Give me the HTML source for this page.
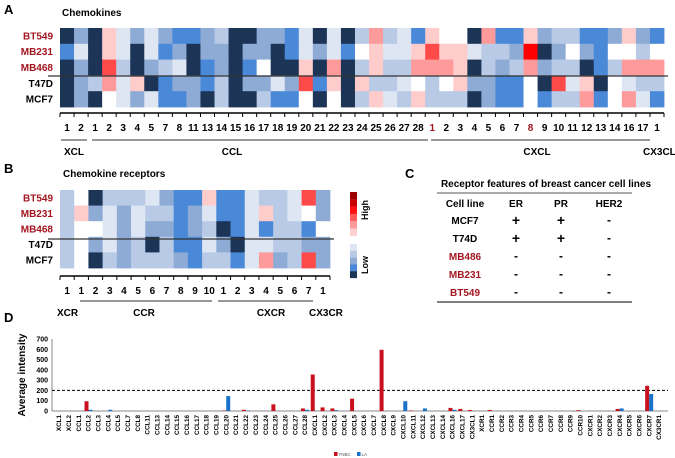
<!DOCTYPE html>
<html><head><meta charset="utf-8">
<style>
html,body{margin:0;padding:0;background:#fff;}
svg{display:block;font-family:"Liberation Sans",Arial,sans-serif;font-weight:bold;}
</style></head>
<body>
<svg id="fig" width="675" height="458" viewBox="0 0 675 458" xmlns="http://www.w3.org/2000/svg">
<text x="4" y="14" font-size="13">A</text>
<text x="62" y="16" font-size="10">Chemokines</text>
<text x="4" y="173" font-size="13">B</text>
<text x="63" y="177" font-size="10">Chemokine receptors</text>
<text x="405" y="178" font-size="13">C</text>
<text x="4" y="322" font-size="13">D</text>
<g id="gA"></g>
<g id="gB"></g>
<g id="gL"></g>
<g id="gC"></g>
<g id="gD"></g>
</svg>
<script>
const rowsA = ["BT549","MB231","MB468","T47D","MCF7"];
const colsA = ["1","2","1","2","3","4","5","7","8","11","13","14","15","16","17","18","19","20","21","22","23","24","25","26","27","28","1","2","3","4","5","6","7","8","9","10","11","12","13","14","16","17","1"];
const heatA = [
 "DMDpPMPMBBMLDDMMBPDPDLsLPBpWWDsBBpMLLBBMpMB",
 "BPDpPDPBMDMMDMMDBPMPBWpPPprppPLLMRDMWMBWWLW",
 "DMDrLDMLPDBMDBWDDpDsDLpLLssspDLMLsMLLDBLsss",
 "DMLsPpDBMMBLDMMPMrBpDpLLPWLWpMMBBWDrPpDWPLL",
 "DMDWPMPBBMDLDDLBBWDWDLpPLpLLLDMBBWBLLsBWsPB"
];
const rowsB = ["BT549","MB231","MB468","T47D","MCF7"];
const colsB = ["1","1","2","3","4","5","6","7","8","9","10","1","2","3","4","5","6","7","1"];
const heatB = [
 "LWDLLLPMBBpBBPLLPrM",
 "LpMPMPLLBMPBBPpLPWM",
 "LWWPMPMMBMLDBPBLLBW",
 "LWMPMLDLBBPMDPPLLMM",
 "LWDLMLLLMBLLBPsMLrM"
];
const catsD = ["XCL1","XCL2","CCL1","CCL2","CCL3","CCL4","CCL5","CCL7","CCL8","CCL11","CCL13","CCL14","CCL15","CCL16","CCL17","CCL18","CCL19","CCL20","CCL21","CCL22","CCL23","CCL24","CCL25","CCL26","CCL27","CCL28","CXCL1","CXCL2","CXCL3","CXCL4","CXCL5","CXCL6","CXCL7","CXCL8","CXCL9","CXCL10","CXCL11","CXCL12","CXCL13","CXCL14","CXCL16","CXCL17","CX3CL1","XCR1","CCR1","CCR2","CCR3","CCR4","CCR5","CCR6","CCR7","CCR8","CCR9","CCR10","CXCR1","CXCR2","CXCR3","CXCR4","CXCR5","CXCR6","CXCR7","CX3CR1"];
const tnbc = [0,0,0,95,0,0,0,0,0,0,0,0,0,0,0,0,0,5,0,12,0,0,65,0,0,25,355,35,25,0,120,0,0,595,0,0,5,0,0,0,30,20,10,0,10,0,0,0,0,0,0,0,0,8,0,0,0,20,0,0,245,0];
const la   = [0,0,0,12,0,12,0,0,0,0,0,0,0,0,0,0,0,145,0,5,0,0,0,0,0,12,0,0,8,0,0,0,0,0,0,95,0,25,0,0,12,0,0,0,0,0,0,0,0,0,0,0,0,0,0,0,0,25,0,0,165,0];
const yTicks = [0,100,200,300,400,500,600,700];
const threshold = 200;

const NS="http://www.w3.org/2000/svg";
const COL={D:"#1c3557",B:"#4a88d8",M:"#8eabd6",L:"#b8cae6",P:"#dde6f2",W:"#ffffff",p:"#ffcccc",s:"#ff9a9a",r:"#ff4a4a",R:"#ff0000"};
const RED="#a31621";
function mk(parent,tag,attrs,txt){const e=document.createElementNS(NS,tag);for(const k in attrs)e.setAttribute(k,attrs[k]);if(txt!==undefined)e.textContent=txt;parent.appendChild(e);return e;}

function heatmap(g,rows,cols,data,x0,x1,y0,y1,sepY,axisY,redCols){
  const cw=(x1-x0)/cols.length, rh=(y1-y0)/rows.length;
  rows.forEach((r,i)=>{
    const t=mk(g,"text",{x:x0-7,y:y0+rh*i+rh/2+3.5,"font-size":10,"text-anchor":"end",fill:i<3?RED:"#000"},r);
    
    
    const s=data[i];
    for(let j=0;j<cols.length;j++){
      const c=mk(g,"rect",{x:x0+cw*j,y:y0+rh*i,width:cw+0.4,height:rh+0.4,fill:COL[s[j]]||"#fff"});
      
      
    }
  });
  mk(g,"line",{x1:x0-12,x2:x1+4,y1:sepY,y2:sepY,stroke:"#333","stroke-width":1.2});
  mk(g,"line",{x1:x0,x2:x1,y1:axisY,y2:axisY,stroke:"#000","stroke-width":1.5});
  for(let j=0;j<=cols.length;j++) mk(g,"line",{x1:x0+cw*j,x2:x0+cw*j,y1:axisY,y2:axisY+4,stroke:"#000","stroke-width":1});
  cols.forEach((c,j)=>{
    const t=mk(g,"text",{x:x0+cw*j+cw/2,y:axisY+18,"font-size":10,"text-anchor":"middle",fill:(redCols&&redCols.includes(j))?RED:"#000"},c);
    
    
  });
}
const gA=document.getElementById("gA");
heatmap(gA,rowsA,colsA,heatA,60,664,28,107,76,113,[26,33]);
[[61,87],[92,428],[431,650]].forEach(b=>mk(gA,"line",{x1:b[0],x2:b[1],y1:140,y2:140,stroke:"#777","stroke-width":1.5}));
[["XCL",64,"start"],["CCL",232,"middle"],["CXCL",537,"middle"],["CX3CL",643,"start"]].forEach(l=>{
  const t=mk(gA,"text",{x:l[1],y:155,"font-size":10,"text-anchor":l[2]},l[0]);
  
  
});
const gB=document.getElementById("gB");
heatmap(gB,rowsB,colsB,heatB,60,330,190,268,239,276,[]);
[[80,212],[218,313]].forEach(b=>mk(gB,"line",{x1:b[0],x2:b[1],y1:301,y2:301,stroke:"#777","stroke-width":1.5}));
[["XCR",57,"start"],["CCR",144,"middle"],["CXCR",271,"middle"],["CX3CR",309,"start"]].forEach(l=>{
  const t=mk(gB,"text",{x:l[1],y:316,"font-size":10,"text-anchor":l[2]},l[0]);
  
  
});
// legend
const gL=document.getElementById("gL");
["#9a0000","#c80000","#ff1010","#ff5a5a","#ff9a9a","#ffd0d0"].forEach((c,i)=>mk(gL,"rect",{x:350,y:192+i*7.3,width:7,height:7.4,fill:c}));
["#dde6f2","#b8cae6","#8eabd6","#4a88d8","#1c3557"].forEach((c,i)=>mk(gL,"rect",{x:350,y:244+i*6.8,width:7,height:6.9,fill:c}));
mk(gL,"text",{x:0,y:0,"font-size":9,transform:"translate(368,210) rotate(-90)","text-anchor":"middle"},"High");
mk(gL,"text",{x:0,y:0,"font-size":9,transform:"translate(368,265) rotate(-90)","text-anchor":"middle"},"Low");
// table C
const gC=document.getElementById("gC");
mk(gC,"text",{x:546,y:187,"font-size":10,"text-anchor":"middle"},"Receptor features of breast cancer cell lines");
mk(gC,"line",{x1:437,x2:632,y1:193,y2:193,stroke:"#555","stroke-width":1});
mk(gC,"line",{x1:437,x2:632,y1:302,y2:302,stroke:"#555","stroke-width":1.5});
const hdr=[["Cell line",465],["ER",516],["PR",561],["HER2",609]];
hdr.forEach(h=>mk(gC,"text",{x:h[1],y:207,"font-size":10,"text-anchor":"middle"},h[0]));
const tbl=[["MCF7","+","+","-",0],["T74D","+","+","-",0],["MB486","-","-","-",1],["MB231","-","-","-",1],["BT549","-","-","-",1]];
tbl.forEach((r,i)=>{
  const y=224+i*18;
  mk(gC,"text",{x:465,y:y,"font-size":10,"text-anchor":"middle",fill:r[4]?RED:"#000"},r[0]);
  for(let k=1;k<4;k++) mk(gC,"text",{x:hdr[k][1],y:y+(r[k]=="+"?1:0),"font-size":r[k]=="+"?14:12,"text-anchor":"middle"},r[k]);
});
// bar chart D
const gD=document.getElementById("gD");
const ax0=52, ax1=668, y0=411, y700=339;
const xC=i=>59+i*(600/61);
const yV=v=>y0-(v/700)*(y0-y700);
mk(gD,"line",{x1:ax0,x2:ax0,y1:y700,y2:y0,stroke:"#888","stroke-width":1});
mk(gD,"line",{x1:ax0,x2:ax1,y1:y0,y2:y0,stroke:"#888","stroke-width":1});
yTicks.forEach(v=>{
  const t=mk(gD,"text",{x:ax0-4,y:yV(v)+2.5,"font-size":7,"text-anchor":"end"},String(v));
  
  
});
const yt=mk(gD,"text",{x:0,y:0,"font-size":10,transform:"translate(25,375) rotate(-90)","text-anchor":"middle"},"Average intensity");


mk(gD,"line",{x1:ax0,x2:ax1,y1:yV(threshold),y2:yV(threshold),stroke:"#000","stroke-width":1,"stroke-dasharray":"3,2"});
catsD.forEach((c,i)=>{
  const x=xC(i);
  if(tnbc[i]>0){const b=mk(gD,"rect",{x:x-4,y:yV(tnbc[i]),width:4,height:y0-yV(tnbc[i]),fill:"#c8101e"});
    
    }
  if(la[i]>0){const b=mk(gD,"rect",{x:x,y:yV(la[i]),width:4,height:y0-yV(la[i]),fill:"#1a73c8"});
    
    }
  const t=mk(gD,"text",{x:0,y:0,"font-size":6.3,transform:"translate("+(x+2.2)+",415) rotate(-90)","text-anchor":"end"},c);
  
  
});
mk(gD,"rect",{x:334,y:452,width:3.5,height:4,fill:"#c8101e"});
mk(gD,"text",{x:338.5,y:456,"font-size":4.5,"font-weight":"normal",fill:"#555"},"TNBC");
mk(gD,"rect",{x:357,y:452,width:3.5,height:4,fill:"#1a73c8"});
mk(gD,"text",{x:361.5,y:456,"font-size":4.5,"font-weight":"normal",fill:"#555"},"LA");
</script>
</body></html>
